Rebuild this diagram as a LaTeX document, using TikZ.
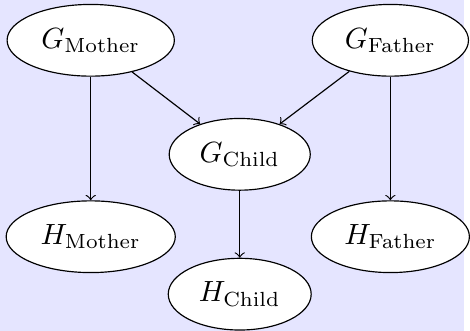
\documentclass[tikz,border=0pt]{standalone}
\usetikzlibrary{shapes.geometric}
\begin{document}
\begin{tikzpicture}[every node/.style={ellipse, draw, fill=white, inner ysep=4.5pt}]
        \fill[blue!10] (0, 0) rectangle (5.575, 3.974);
        \node (gm) at (1.09, 3.49) {$G_{\mathrm{Mother}}$};
        \node (gf) at (4.69, 3.49) {$G_{\mathrm{Father}}$};
        \node (gc) at (2.88, 2.12) {$G_{\mathrm{Child}}$};
        \node (hm) at (1.09, 1.13) {$H_{\mathrm{Mother}}$};
        \node (hf) at (4.69, 1.13) {$H_{\mathrm{Father}}$};
        \node (hc) at (2.88, 0.44) {$H_{\mathrm{Child}}$};
        \draw[->] (gm) -- (hm);
        \draw[->] (gm) -- (gc);
        \draw[->] (gf) -- (gc);
        \draw[->] (gf) -- (hf);
        \draw[->] (gc) -- (hc);
        \end{tikzpicture}
\end{document}
